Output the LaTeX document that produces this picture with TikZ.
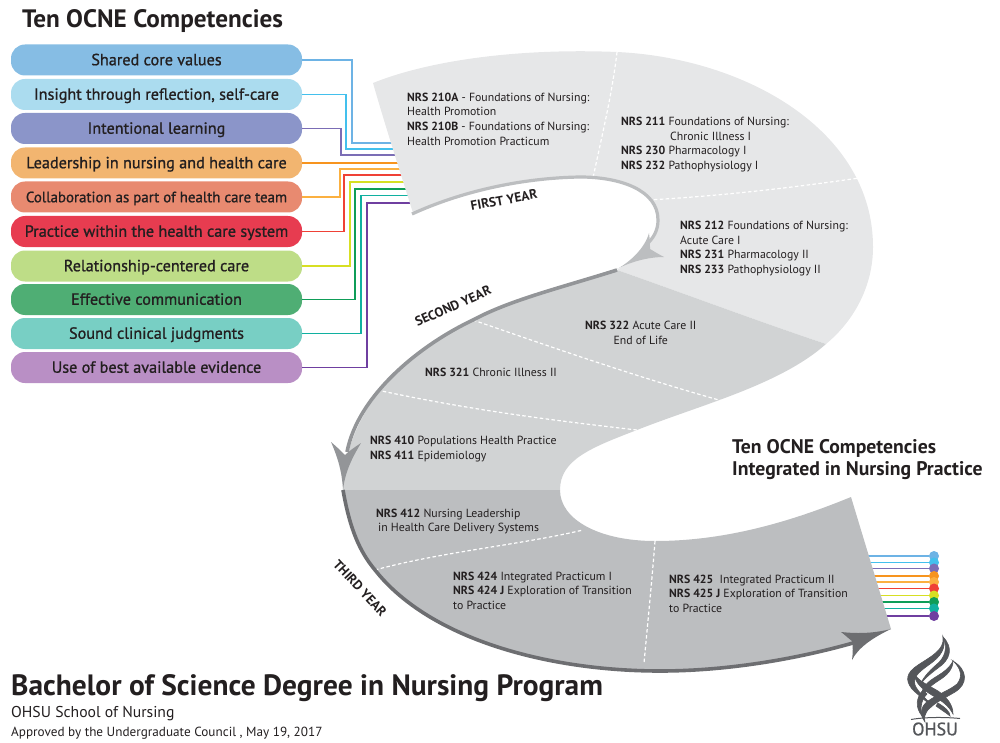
\documentclass[tikz,border=0pt]{standalone}
\usepackage{fontspec}
\usepackage{xcolor}
\usepackage{tikz}
\setmainfont{PT Sans}
\newfontfamily\semifont[FakeBold=1.0]{PT Sans}
\usetikzlibrary{arrows.meta, positioning}
\definecolor{C_TXT}{HTML}{231F20}
\definecolor{C_Y1}{HTML}{E6E7E8}
\definecolor{C_Y2}{HTML}{D1D3D4}
\definecolor{C_Y3}{HTML}{BCBEC0}
\definecolor{C_L1}{HTML}{BCBEC0}
\definecolor{C_L2}{HTML}{939598}
\definecolor{C_L3}{HTML}{6D6E71}
\definecolor{C_LOGO}{HTML}{54565A}
%% pill fills
\definecolor{P_SHARED}{HTML}{86BDE4}
\definecolor{P_INSIGHT}{HTML}{ABDCEF}
\definecolor{P_LEARN}{HTML}{8B95C9}
\definecolor{P_LEAD}{HTML}{F2B570}
\definecolor{P_COLLAB}{HTML}{E88A70}
\definecolor{P_SYSTEM}{HTML}{E73C50}
\definecolor{P_RELATE}{HTML}{BEDD87}
\definecolor{P_COMM}{HTML}{4FAE74}
\definecolor{P_JUDGE}{HTML}{78CFC4}
\definecolor{P_EVID}{HTML}{B98FC5}
%% thread colours
\definecolor{T_SHARED}{HTML}{6DB3E5}
\definecolor{T_INSIGHT}{HTML}{43C0ED}
\definecolor{T_LEARN}{HTML}{7B6DB5}
\definecolor{T_LEAD}{HTML}{F7941E}
\definecolor{T_COLLAB}{HTML}{FBB040}
\definecolor{T_SYSTEM}{HTML}{EF4136}
\definecolor{T_RELATE}{HTML}{D7DF23}
\definecolor{T_COMM}{HTML}{0F9D58}
\definecolor{T_JUDGE}{HTML}{10B0A0}
\definecolor{T_EVID}{HTML}{6F3FA0}
\tikzset{
  %% -- competency pill --
  OC/pill/.style={
    rounded corners=14pt, inner sep=0pt, text=C_TXT,
    minimum width=291pt, minimum height=31pt,
    text height=10.5pt, text depth=0pt,
    align=center, font=\fontsize{16.2}{18}\semifont
  },
  %% -- coloured thread --
  OC/thread/.style={line width=1.5pt},
  %% -- thread end dot --
  OC/dot/.style={circle, inner sep=0pt, minimum size=10pt},
  %% -- course text in the band --
  OC/course/.style={
    anchor=west, inner sep=0pt, align=left, text=C_TXT,
    font=\fontsize{11.8}{14.6}\selectfont
  },
  %% -- white divider in the band --
  OC/cut/.style={white, line width=1.2pt, dash pattern=on 3.5pt off 2.4pt},
  %% -- year label --
  OC/year/.style={inner sep=0pt, text=C_TXT, font=\fontsize{13.3}{15}\selectfont\bfseries},
  %% -- headings --
  OC/head/.style={anchor=west, inner sep=0pt, text=C_TXT, align=left},
}
\begin{document}
\begin{tikzpicture}[x=1pt, y=-1pt]
\useasboundingbox (0,0) rectangle (1000,743);

%% ── Pill x-position ────────────────────────────────────────────────────────
\pgfmathsetmacro{\xPill}{156.5}

\node[OC/head, font=\fontsize{25.2}{28}\selectfont\bfseries] (title) at (22,21) {Ten OCNE Competencies};

%% ── Competency pills ───────────────────────────────────────────────────────
\node[OC/pill, fill=P_SHARED]  (P1)  at (\xPill,60)  {Shared core values};
\node[OC/pill, fill=P_INSIGHT] (P2)  at (\xPill,94.5) {Insight through reflection, self-care};
\node[OC/pill, fill=P_LEARN]   (P3)  at (\xPill,128.5) {Intentional learning};
\node[OC/pill, fill=P_LEAD]    (P4)  at (\xPill,163) {Leadership in nursing and health care};
\node[OC/pill, fill=P_COLLAB, font=\fontsize{14.9}{18}\semifont]  (P5)  at (\xPill,197) {Collaboration as part of health care team};
\node[OC/pill, fill=P_SYSTEM]  (P6)  at (\xPill,231.5) {Practice within the health care system};
\node[OC/pill, fill=P_RELATE]  (P7)  at (\xPill,266) {Relationship-centered care};
\node[OC/pill, fill=P_COMM]    (P8)  at (\xPill,299.5) {Effective communication};
\node[OC/pill, fill=P_JUDGE]   (P9)  at (\xPill,333.5) {Sound clinical judgments};
\node[OC/pill, fill=P_EVID]    (P10) at (\xPill,367.5) {Use of best available evidence};

%% ── Threads into the first year ────────────────────────────────────────────
\coordinate (E1)  at (395,143);
\coordinate (E2)  at (397,149);
\coordinate (E3)  at (399,155);
\coordinate (E4)  at (401,163);
\coordinate (E5)  at (403,169);
\coordinate (E6)  at (405,175);
\coordinate (E7)  at (407,182);
\coordinate (E8)  at (409,189);
\coordinate (E9)  at (411,195.5);
\coordinate (E10) at (414,203);
\draw[OC/thread, T_SHARED]  (P1.east)  -| (352,143) -- (E1);
\draw[OC/thread, T_INSIGHT] (P2.east)  -| (346,149) -- (E2);
\draw[OC/thread, T_LEARN]   (P3.east)  -| (341,155) -- (E3);
\draw[OC/thread, T_LEAD]    (P4.east)  -- (E4);
\draw[OC/thread, T_COLLAB]  (P5.east)  -| (340,169) -- (E5);
\draw[OC/thread, T_SYSTEM]  (P6.east)  -| (344,175) -- (E6);
\draw[OC/thread, T_RELATE]  (P7.east)  -| (350,182) -- (E7);
\draw[OC/thread, T_COMM]    (P8.east)  -| (355,189) -- (E8);
\draw[OC/thread, T_JUDGE]   (P9.east)  -| (361,195.5) -- (E9);
\draw[OC/thread, T_EVID]    (P10.east) -| (367,203) -- (E10);

%% ── Threads out of the third year ──────────────────────────────────────────
\coordinate (O1)  at (860,556);
\coordinate (O2)  at (860,562.5);
\coordinate (O3)  at (860,568.5);
\coordinate (O4)  at (860,576);
\coordinate (O5)  at (860,582);
\coordinate (O6)  at (860,588.5);
\coordinate (O7)  at (860,595.5);
\coordinate (O8)  at (860,602);
\coordinate (O9)  at (860,608.5);
\coordinate (O10) at (860,616);
\node[OC/dot, fill=T_SHARED]  (D1)  at (934,556) {};
\node[OC/dot, fill=T_INSIGHT] (D2)  at (934,562.5) {};
\node[OC/dot, fill=T_LEARN]   (D3)  at (934,568.5) {};
\node[OC/dot, fill=T_LEAD]    (D4)  at (934,576) {};
\node[OC/dot, fill=T_COLLAB]  (D5)  at (934,582) {};
\node[OC/dot, fill=T_SYSTEM]  (D6)  at (934,588.5) {};
\node[OC/dot, fill=T_RELATE]  (D7)  at (934,595.5) {};
\node[OC/dot, fill=T_COMM]    (D8)  at (934,602) {};
\node[OC/dot, fill=T_JUDGE]   (D9)  at (934,608.5) {};
\node[OC/dot, fill=T_EVID]    (D10) at (934,616) {};
\draw[OC/thread, T_SHARED]  (O1)  -- (D1);
\draw[OC/thread, T_INSIGHT] (O2)  -- (D2);
\draw[OC/thread, T_LEARN]   (O3)  -- (D3);
\draw[OC/thread, T_LEAD]    (O4)  -- (D4);
\draw[OC/thread, T_COLLAB]  (O5)  -- (D5);
\draw[OC/thread, T_SYSTEM]  (O6)  -- (D6);
\draw[OC/thread, T_RELATE]  (O7)  -- (D7);
\draw[OC/thread, T_COMM]    (O8)  -- (D8);
\draw[OC/thread, T_JUDGE]   (O9)  -- (D9);
\draw[OC/thread, T_EVID]    (O10) -- (D10);

%% ══════════════════════════════════════════════════════════════════════════
%% S-shaped band
%% ══════════════════════════════════════════════════════════════════════════
\fill[C_Y1] (373,83) .. controls (430,60) and (520,48) .. (617,52)
  .. controls (745,58) and (873,130) .. (873,247)
  .. controls (873,285) and (855,320) .. (826,344)
  .. controls (760,322) and (680,292) .. (617,270)
  .. controls (640,255) and (657,238) .. (657,220)
  .. controls (657,190) and (620,178) .. (580,178)
  .. controls (520,178) and (460,192) .. (413,213)
  .. controls (398,165) and (385,125) .. (373,83) -- cycle;
\fill[C_Y2] (617,270) .. controls (560,288) and (510,300) .. (473,320)
  .. controls (420,345) and (345,400) .. (343,490)
  -- (560,490)
  .. controls (560,460) and (590,448) .. (637,430)
  .. controls (700,405) and (780,385) .. (826,344)
  .. controls (760,322) and (680,292) .. (617,270) -- cycle;
\fill[C_Y3] (343,490) -- (560,490)
  .. controls (560,520) and (600,541) .. (655,541)
  .. controls (725,541) and (790,522) .. (851,497)
  -- (891,629)
  .. controls (875,633) and (860,638) .. (852,643)
  .. controls (800,658) and (730,671) .. (660,671)
  .. controls (550,671) and (430,640) .. (375,570)
  .. controls (360,552) and (350,530) .. (343,490) -- cycle;

%% Dividers
\draw[OC/cut] (617,52) .. controls (612,95) and (602,135) .. (593,178);
\draw[OC/cut] (648,200) .. controls (720,196) and (790,188) .. (859,178);
\draw[OC/cut] (473,320) .. controls (560,350) and (640,378) .. (726,402);
\draw[OC/cut] (377,390) .. controls (470,410) and (550,420) .. (637,430);
\draw[OC/cut] (375,570) .. controls (440,552) and (520,545) .. (583,530);
\draw[OC/cut] (655,541) .. controls (652,580) and (648,620) .. (644,663);

%% ── Year strokes and arrow heads ───────────────────────────────────────────
\draw[C_L1, line width=3.2pt] (412,214) .. controls (460,192) and (520,178) .. (580,177)
  .. controls (620,177) and (658,190) .. (658,220)
  .. controls (658,230) and (654,238) .. (645,246);
\fill[C_L1] (649,233) .. controls (650,240) and (650,245) .. (650,249)
  .. controls (655,252) and (660,255) .. (664,257)
  .. controls (648,257) and (630,262) .. (617,269)
  .. controls (630,262) and (645,248) .. (649,233) -- cycle;
\draw[C_L2, line width=3.6pt] (617,270) .. controls (560,288) and (510,300) .. (473,320)
  .. controls (420,345) and (358,395) .. (347,452);
\fill[C_L2] (331,442) .. controls (337,447) and (342,452) .. (345,455)
  .. controls (349,451) and (355,447) .. (361,443)
  .. controls (352,458) and (345,472) .. (343,490)
  .. controls (342,472) and (338,458) .. (331,442) -- cycle;
\draw[C_L3, line width=3.6pt] (343,490) .. controls (350,530) and (360,552) .. (375,570)
  .. controls (430,640) and (550,671) .. (660,671)
  .. controls (730,671) and (800,658) .. (853,643);
\fill[C_L3] (841,632) .. controls (860,634) and (875,633) .. (891,629)
  .. controls (872,638) and (858,648) .. (852,660)
  .. controls (853,652) and (853,647) .. (852,641)
  .. controls (848,638) and (845,635) .. (841,632) -- cycle;

\node[OC/year, rotate=10.5] (Y1) at (504,200) {FIRST YEAR};
\node[OC/year, rotate=24] (Y2) at (453,306) {SECOND YEAR};
\node[OC/year, rotate=-47] (Y3) at (360,588) {THIRD YEAR};

%% ── Course texts ───────────────────────────────────────────────────────────
\node[OC/course] (C1) at (407,119)
  {\textbf{NRS 210A} - Foundations of Nursing:\\Health Promotion\\
   \textbf{NRS 210B} - Foundations of Nursing:\\Health Promotion Practicum};
\node[OC/course] (C2) at (621,144.5)
  {\textbf{NRS 211} Foundations of Nursing:\\\hspace*{49pt}Chronic Illness I\\
   \textbf{NRS 230} Pharmacology I\\\textbf{NRS 232} Pathophysiology I};
\node[OC/course] (C3) at (680,248.5)
  {\textbf{NRS 212} Foundations of Nursing:\\Acute Care I\\
   \textbf{NRS 231} Pharmacology II\\\textbf{NRS 233} Pathophysiology II};
\node[OC/course, align=center] (C4) at (585,333)
  {\textbf{NRS 322} Acute Care II\\End of Life};
\node[OC/course] (C5) at (425,372.5) {\textbf{NRS 321} Chronic Illness II};
\node[OC/course] (C6) at (370,449)
  {\textbf{NRS 410} Populations Health Practice\\\textbf{NRS 411} Epidemiology};
\node[OC/course] (C7) at (376,521.5)
  {\textbf{NRS 412} Nursing Leadership\\\hspace*{2pt}in Health Care Delivery Systems};
\node[OC/course] (C8) at (453,590.5)
  {\textbf{NRS 424} Integrated Practicum I\\
   \textbf{NRS 424 J} Exploration of Transition\\to Practice};
\node[OC/course] (C9) at (669,593.5)
  {\textbf{NRS 425}\ \ Integrated Practicum II\\
   \textbf{NRS 425 J} Exploration of Transition\\to Practice};

%% ── Right heading and footer ───────────────────────────────────────────────
\node[OC/head, font=\fontsize{19.7}{22}\selectfont\bfseries] (sub) at (732,459.5)
  {Ten OCNE Competencies\\Integrated in Nursing Practice};
\node[OC/head, font=\fontsize{29.4}{32}\selectfont\bfseries] (foot1) at (11,688)
  {Bachelor of Science Degree in Nursing Program};
\node[OC/head, font=\fontsize{15.7}{18}\selectfont] (foot2) at (11,714) {OHSU School of Nursing};
\node[OC/head, font=\fontsize{13.2}{15}\selectfont] (foot3) at (11,733)
  {Approved by the Undergraduate Council , May 19, 2017};

%% ── OHSU mark ──────────────────────────────────────────────────────────────
\begin{scope}[draw=C_LOGO, line width=0.6pt, fill=C_LOGO]
\filldraw (943,637) .. controls (945,650) and (930,657) .. (918,665)
  .. controls (906,673) and (905,680) .. (912,689)
  .. controls (920,697) and (928,702) .. (932,707)
  .. controls (928,699) and (918,693) .. (915,685)
  .. controls (912,676) and (922,670) .. (930,664)
  .. controls (940,657) and (947,648) .. (943,637) -- cycle;
\filldraw (943,637) .. controls (954,648) and (950,660) .. (938,668)
  .. controls (930,674) and (924,679) .. (920,685)
  .. controls (923,678) and (928,672) .. (936,665)
  .. controls (945,658) and (948,648) .. (943,637) -- cycle;
\filldraw (953,661) .. controls (968,670) and (968,684) .. (955,692)
  .. controls (945,698) and (936,702) .. (930,708)
  .. controls (924,713) and (924,719) .. (925,722)
  .. controls (919,714) and (921,706) .. (928,701)
  .. controls (938,694) and (950,690) .. (957,684)
  .. controls (963,677) and (961,668) .. (953,661) -- cycle;
\filldraw (953,661) .. controls (953,670) and (946,676) .. (938,681)
  .. controls (930,686) and (924,692) .. (922,698)
  .. controls (920,690) and (926,683) .. (934,678)
  .. controls (942,673) and (949,669) .. (953,661) -- cycle;
\filldraw (914,672) .. controls (916,680) and (928,685) .. (938,691)
  .. controls (947,697) and (953,705) .. (953,714)
  .. controls (949,706) and (942,701) .. (935,697)
  .. controls (925,691) and (914,684) .. (914,672) -- cycle;
\filldraw (923,690) .. controls (916,698) and (915,707) .. (922,716)
  .. controls (920,708) and (921,700) .. (927,694) -- cycle;
\filldraw (938,703) .. controls (946,708) and (950,712) .. (950,716)
  .. controls (945,712) and (940,709) .. (936,706) -- cycle;
\end{scope}
\draw[C_LOGO, line width=1pt] (911,719.5) .. controls (925,717) and (945,717) .. (960,718.5);
\node[inner sep=0pt, text=C_LOGO, font=\fontsize{18}{20}\semifont] (logo) at (935,729) {OHSU};

\end{tikzpicture}
\end{document}
